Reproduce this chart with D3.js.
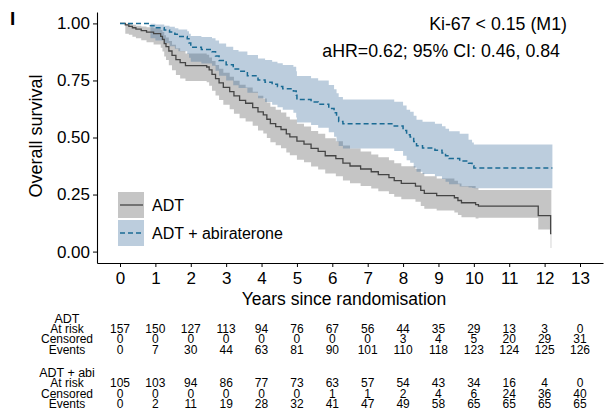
<!DOCTYPE html>
<html><head><meta charset="utf-8">
<script src="https://cdn.jsdelivr.net/npm/d3@7"></script>
<style>
html,body{margin:0;padding:0;background:#fff;}
svg{display:block;font-family:"Liberation Sans",Arial,sans-serif;}
</style></head>
<body><div id="chart"></div>
<script>
// ---- data ----
const adtTime  = [0,0.15,0.25,0.35,0.45,0.6,0.75,0.95,1.15,1.2,1.25,1.3,1.38,1.47,1.58,1.7,1.85,2.45,2.52,2.6,2.7,2.8,2.92,3.1,3.22,3.38,3.55,3.75,3.9,4.05,4.15,4.25,4.4,4.55,4.7,4.8,5.0,5.2,5.4,5.6,5.8,6.1,6.3,6.5,6.8,7.1,7.3,7.6,7.75,7.95,8.35,8.5,8.6,8.95,9.45,9.55,9.65,10.05,10.13,11.82,12.17,12.19];
const adtSurv  = [1,0.994,0.987,0.981,0.975,0.968,0.962,0.955,0.943,0.930,0.911,0.898,0.879,0.860,0.841,0.828,0.815,0.809,0.796,0.777,0.758,0.739,0.720,0.701,0.682,0.663,0.650,0.631,0.612,0.599,0.580,0.561,0.548,0.535,0.516,0.503,0.484,0.471,0.452,0.439,0.420,0.407,0.388,0.375,0.362,0.350,0.337,0.324,0.311,0.299,0.287,0.268,0.255,0.245,0.236,0.224,0.214,0.206,0.199,0.158,0.079,0.079];
const adtLower = [1,0.955,0.950,0.942,0.935,0.926,0.917,0.908,0.893,0.877,0.855,0.840,0.817,0.795,0.774,0.759,0.748,0.742,0.727,0.705,0.684,0.664,0.644,0.624,0.604,0.584,0.570,0.551,0.531,0.517,0.498,0.479,0.466,0.453,0.434,0.422,0.403,0.391,0.373,0.360,0.342,0.330,0.312,0.300,0.288,0.276,0.264,0.252,0.240,0.229,0.218,0.200,0.188,0.180,0.171,0.160,0.151,0.145,0.148,0.097,0.016,0.016];
const adtUpper = [1,0.999,0.997,0.994,0.990,0.987,0.983,0.979,0.971,0.962,0.948,0.938,0.923,0.907,0.891,0.879,0.868,0.863,0.851,0.835,0.818,0.801,0.784,0.766,0.749,0.731,0.719,0.701,0.683,0.671,0.653,0.635,0.622,0.610,0.591,0.579,0.560,0.548,0.529,0.516,0.497,0.484,0.465,0.452,0.439,0.426,0.413,0.400,0.387,0.374,0.362,0.343,0.330,0.320,0.310,0.298,0.288,0.279,0.270,0.270,0.270,0.270];

const abiTime  = [0,0.86,1.0,1.25,1.4,1.55,1.65,1.9,1.95,2.0,2.3,2.6,2.7,2.8,3.0,3.2,3.35,3.6,3.9,4.1,4.3,4.45,4.6,4.9,4.98,5.0,5.4,5.6,5.9,6.05,6.12,6.18,6.3,7.75,8.0,8.1,8.2,8.3,8.38,8.55,8.9,9.1,9.2,9.3,9.6,9.85,9.95,10.0,12.22];
const abiSurv  = [1,0.990,0.981,0.971,0.962,0.952,0.943,0.933,0.914,0.895,0.886,0.876,0.857,0.838,0.819,0.800,0.790,0.771,0.752,0.742,0.733,0.723,0.714,0.704,0.685,0.666,0.656,0.646,0.627,0.608,0.589,0.570,0.560,0.550,0.531,0.512,0.502,0.483,0.464,0.454,0.444,0.432,0.420,0.408,0.397,0.387,0.376,0.366,0.366];
const abiLower = [1,0.935,0.925,0.913,0.900,0.889,0.878,0.866,0.850,0.832,0.824,0.814,0.792,0.771,0.750,0.729,0.717,0.696,0.672,0.656,0.644,0.633,0.622,0.609,0.588,0.566,0.555,0.543,0.523,0.503,0.483,0.463,0.452,0.441,0.420,0.400,0.389,0.369,0.350,0.340,0.330,0.318,0.306,0.295,0.285,0.281,0.279,0.278,0.278];
const abiUpper = [1,0.999,0.995,0.990,0.985,0.979,0.973,0.966,0.955,0.945,0.940,0.935,0.925,0.912,0.898,0.884,0.877,0.862,0.846,0.840,0.832,0.825,0.818,0.810,0.790,0.770,0.760,0.750,0.730,0.712,0.694,0.677,0.667,0.657,0.640,0.622,0.613,0.595,0.578,0.569,0.560,0.549,0.538,0.527,0.516,0.490,0.478,0.469,0.469];

const xTicks = [0,1,2,3,4,5,6,7,8,9,10,11,12,13];
const yTicks = [0,0.25,0.5,0.75,1];

const adtAtRisk    = [157,150,127,113,94,76,67,56,44,35,29,13,3,0];
const adtCensored  = [0,0,0,0,0,0,0,0,3,4,5,20,29,31];
const adtEvents    = [0,7,30,44,63,81,90,101,110,118,123,124,125,126];
const abiAtRisk    = [105,103,94,86,77,73,63,57,54,43,34,16,4,0];
const abiCensored  = [0,0,0,0,0,0,1,1,2,4,6,24,36,40];
const abiEvents    = [0,2,11,19,28,32,41,47,49,58,65,65,65,65];

const groupNames = ["ADT","ADT + abiraterone"];
const tableGroups = ["ADT","ADT + abi"];
const rowLabels = ["At risk","Censored","Events"];

// ---- chart ----
const W=605,H=411;
const svg=d3.select("#chart").append("svg").attr("width",W).attr("height",H);
const x=d3.scaleLinear().domain([-0.65,13.65]).range([97,603]);
const y=d3.scaleLinear().domain([-0.05,1.05]).range([263,12]);

const mk=(t,s,lo,hi)=>t.map((d,i)=>({t:d,s:s[i],lo:lo[i],hi:hi[i]}));
const adt=mk(adtTime,adtSurv,adtLower,adtUpper);
const abi=mk(abiTime,abiSurv,abiLower,abiUpper);

const area=d3.area().curve(d3.curveStepAfter).x(d=>x(d.t)).y0(d=>y(d.lo)).y1(d=>y(d.hi));
const line=d3.line().curve(d3.curveStepAfter).x(d=>x(d.t)).y(d=>y(d.s));

const grayFill="#8c8c8c", grayOp=0.5;
const blueFill="#3f6f9f", blueOp=0.35;

svg.append("path").datum(adt).attr("d",area).attr("fill",grayFill).attr("fill-opacity",grayOp);
svg.append("path").datum(abi).attr("d",area).attr("fill",blueFill).attr("fill-opacity",blueOp);
svg.append("path").datum(adt).attr("d",line).attr("fill","none").attr("stroke","#454545").attr("stroke-width",1.3);
svg.append("path").datum(abi).attr("d",line).attr("fill","none").attr("stroke","#1a6b94").attr("stroke-width",1.5).attr("stroke-dasharray","5,3");

// axes
const yAxis=svg.append("g").attr("transform","translate(97,0)")
  .call(d3.axisLeft(y).tickValues(yTicks).tickFormat(d3.format(".2f")).tickSize(4).tickSizeOuter(0).tickPadding(3));
const xAxis=svg.append("g").attr("transform","translate(0,263)")
  .call(d3.axisBottom(x).tickValues(xTicks).tickFormat(d3.format("d")).tickSize(4).tickSizeOuter(0).tickPadding(5));
[yAxis,xAxis].forEach(g=>{
  g.selectAll("text").attr("font-size",17).attr("fill","#000").attr("font-family","Liberation Sans, Arial, sans-serif");
  g.selectAll("line").attr("stroke","#000").attr("stroke-width",1);
  g.select(".domain").attr("stroke","#000").attr("stroke-width",1.1);
});

svg.append("text").attr("transform","translate(41.5,136) rotate(-90)").attr("text-anchor","middle")
  .attr("font-size",18).text("Overall survival");
svg.append("text").attr("x",344).attr("y",305).attr("text-anchor","middle")
  .attr("font-size",17.5).text("Years since randomisation");

svg.append("text").attr("x",10).attr("y",25).attr("font-size",19).attr("font-weight","bold").text("I");

svg.append("text").attr("x",567).attr("y",30).attr("text-anchor","end").attr("font-size",17.8).text("Ki-67 < 0.15 (M1)");
svg.append("text").attr("x",560).attr("y",57).attr("text-anchor","end").attr("font-size",17.8).text("aHR=0.62; 95% CI: 0.46, 0.84");

// legend
const leg=[{name:groupNames[0],fill:grayFill,op:grayOp,stroke:"#454545",dash:null,y:192},
           {name:groupNames[1],fill:blueFill,op:blueOp,stroke:"#1a6b94",dash:"5,3",y:220}];
leg.forEach(l=>{
  svg.append("rect").attr("x",118).attr("y",l.y).attr("width",26).attr("height",26)
    .attr("fill",l.fill).attr("fill-opacity",l.op);
  svg.append("line").attr("x1",120).attr("x2",143).attr("y1",l.y+13).attr("y2",l.y+13)
    .attr("stroke",l.stroke).attr("stroke-width",l.dash?1.5:1.3).attr("stroke-dasharray",l.dash);
  svg.append("text").attr("x",152).attr("y",l.y+19).attr("font-size",16).text(l.name);
});

// risk table
const fs=11.5;
const blocks=[{name:tableGroups[0],rows:[adtAtRisk,adtCensored,adtEvents],y0:322.5},
              {name:tableGroups[1],rows:[abiAtRisk,abiCensored,abiEvents],y0:377}];
blocks.forEach(b=>{
  svg.append("text").attr("x",67).attr("y",b.y0).attr("text-anchor","middle").attr("font-size",fs+1).text(b.name);
  b.rows.forEach((r,ri)=>{
    const yy=b.y0+10.4*(ri+1);
    svg.append("text").attr("x",67).attr("y",yy).attr("text-anchor","middle").attr("font-size",fs+0.5).text(rowLabels[ri]);
    svg.append("g").selectAll("text").data(r).join("text")
      .attr("x",(d,i)=>x(xTicks[i])).attr("y",yy).attr("text-anchor","middle").attr("font-size",fs+0.5).text(d=>d);
  });
});
</script></body></html>
